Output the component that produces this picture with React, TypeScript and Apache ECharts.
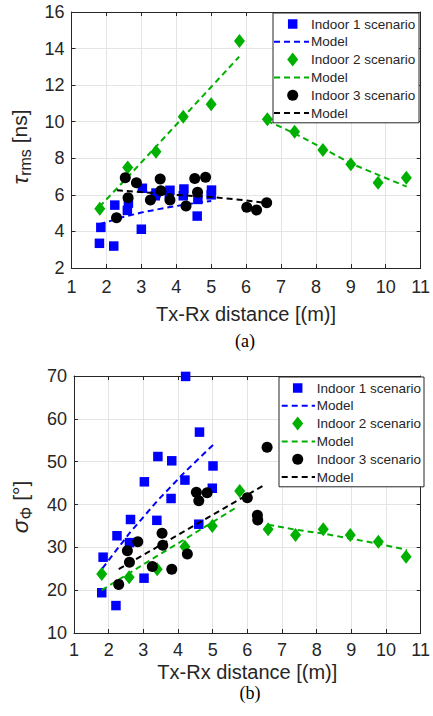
import React, { useEffect, useRef } from "react";
import * as echarts from "echarts";

// ---------- Data ----------
// Panel (a): RMS delay spread tau_rms [ns] vs Tx-Rx distance [m]
const tauIndoor1: [number, number][] = [
  [1.8, 3.35], [1.84, 4.22], [2.21, 3.2], [2.24, 5.44], [2.6, 5.15], [2.63, 5.55],
  [3.0, 4.12], [3.03, 6.36], [3.4, 5.95], [3.42, 6.1], [3.8, 6.05], [3.82, 6.25],
  [4.2, 5.95], [4.22, 6.32], [4.6, 4.84], [4.62, 5.75], [5.0, 6.0], [5.01, 6.26],
];
const tauModel1: [number, number][] = [
  [1.8, 4.39], [2.5, 4.8], [3.0, 5.03], [3.5, 5.22], [4.0, 5.39], [4.5, 5.54], [5.0, 5.67],
];
const tauIndoor2: [number, number][] = [
  [1.81, 5.24], [2.61, 7.5], [3.42, 8.36], [4.2, 10.27], [5.0, 10.95], [5.81, 14.41],
  [6.61, 10.13], [7.39, 9.45], [8.2, 8.45], [9.0, 7.67], [9.78, 6.66], [10.59, 6.94],
];
const tauModel2Near: [number, number][] = [
  [1.8, 5.35], [2.6, 6.95], [3.4, 8.6], [4.2, 10.25], [5.0, 11.9], [5.8, 13.55],
];
const tauModel2Far: [number, number][] = [
  [6.6, 10.05], [7.4, 9.35], [8.2, 8.55], [9.0, 7.72], [9.8, 7.08], [10.6, 6.45],
];
const tauIndoor3: [number, number][] = [
  [2.29, 4.75], [2.54, 6.94], [2.62, 5.84], [2.86, 6.66], [3.26, 5.72], [3.54, 6.87],
  [3.56, 6.23], [3.82, 5.72], [4.28, 5.39], [4.53, 6.9], [4.61, 6.14], [4.84, 6.96],
  [6.02, 5.32], [6.3, 5.17], [6.59, 5.57],
];
const tauModel3: [number, number][] = [
  [2.3, 6.25], [3.0, 6.15], [4.0, 6.0], [5.0, 5.88], [6.0, 5.7], [6.6, 5.55],
];

// Panel (b): angular spread sigma_Phi [deg] vs Tx-Rx distance [m]
const sigIndoor1: [number, number][] = [
  [1.8, 19.4], [1.84, 27.7], [2.21, 16.4], [2.24, 32.7], [2.6, 31.1], [2.63, 36.5],
  [3.02, 22.8], [3.03, 45.3], [3.39, 36.3], [3.42, 51.2], [3.8, 41.4], [3.82, 50.2],
  [4.2, 45.7], [4.22, 69.9], [4.6, 35.4], [4.62, 56.9], [4.99, 43.8], [5.01, 49.0],
];
const sigModel1: [number, number][] = [
  [1.82, 25.1], [2.6, 33.3], [3.42, 41.0], [4.2, 47.6], [5.01, 53.9],
];
const sigIndoor2: [number, number][] = [
  [1.8, 23.8], [2.59, 23.0], [3.4, 24.9], [4.2, 30.15], [4.99, 35.0], [5.78, 43.15],
  [6.6, 34.2], [7.39, 32.9], [8.19, 34.2], [8.97, 32.9], [9.78, 31.3], [10.58, 27.8],
];
const sigModel2Near: [number, number][] = [
  [1.8, 20.0], [2.6, 24.0], [3.4, 28.0], [4.2, 31.9], [5.0, 35.9], [5.7, 39.4],
];
const sigModel2Far: [number, number][] = [
  [6.6, 35.3], [7.4, 34.1], [8.2, 33.2], [9.0, 32.0], [9.8, 30.8], [10.6, 29.4],
];
const sigIndoor3: [number, number][] = [
  [2.29, 21.35], [2.54, 29.2], [2.6, 26.5], [2.84, 31.3], [3.26, 25.5], [3.54, 33.3],
  [3.56, 30.5], [3.82, 24.9], [4.27, 28.45], [4.53, 42.85], [4.6, 40.9], [4.84, 42.75],
  [6.0, 41.6], [6.29, 37.5], [6.3, 36.4], [6.57, 53.35],
];
const sigModel3: [number, number][] = [
  [2.29, 24.9], [3.3, 29.6], [4.3, 34.3], [5.3, 39.0], [6.5, 44.6],
];

const legendLabels = [
  "Indoor 1 scenario", "Model", "Indoor 2 scenario", "Model", "Indoor 3 scenario", "Model",
];
const xTitle = "Tx-Rx distance [(m)]";
const captions = ["(a)", "(b)"];

// ---------- Styles ----------
const FONT = "'Liberation Sans', Arial, Helvetica, sans-serif";
const SERIF = "'Liberation Serif', 'Times New Roman', serif";
const AX = "#262626";
const GRIDC = "#e4e4e4";
const BLUE = "#0000ff";
const GREEN = "#00b000";
const BLACK = "#000000";
const COLORS = [BLUE, GREEN, BLACK];
const SYMBOLS = ["rect", "diamond", "circle"];
const SYMSIZE: any[] = [9.5, [11, 14], 11];
const DASH = [6, 4];

function scatter(data: [number, number][], k: number, g: number, z: number) {
  return {
    type: "scatter", xAxisIndex: g, yAxisIndex: g, data,
    symbol: SYMBOLS[k], symbolSize: SYMSIZE[k],
    itemStyle: { color: COLORS[k], opacity: 1 }, z, silent: true,
  };
}
function model(data: [number, number][], k: number, g: number, z: number) {
  return {
    type: "line", xAxisIndex: g, yAxisIndex: g, data, symbol: "none", showSymbol: false,
    lineStyle: { color: COLORS[k], width: 2, type: DASH }, z, silent: true,
  };
}

function legendGraphic(left: number, top: number, width: number, rowH: number, symX: number, lineX0: number, lineX1: number, textX: number) {
  const Z = 100;
  const children: any[] = [
    { type: "rect", z: Z, shape: { x: left, y: top, width, height: rowH * 6 + 3 },
      style: { fill: "#ffffff", stroke: AX, lineWidth: 1 } },
  ];
  legendLabels.forEach((label, i) => {
    const k = Math.floor(i / 2);
    const cy = top + 11 + i * rowH;
    if (i % 2 === 0) {
      if (k === 0) children.push({ type: "rect", z: Z + 1, shape: { x: symX - 4.75, y: cy - 4.75, width: 9.5, height: 9.5 }, style: { fill: COLORS[k] } });
      if (k === 1) children.push({ type: "polygon", z: Z + 1, shape: { points: [[symX, cy - 7], [symX + 5.5, cy], [symX, cy + 7], [symX - 5.5, cy]] }, style: { fill: COLORS[k] } });
      if (k === 2) children.push({ type: "circle", z: Z + 1, shape: { cx: symX, cy, r: 5.5 }, style: { fill: COLORS[k] } });
    } else {
      children.push({ type: "line", z: Z + 1, shape: { x1: lineX0, y1: cy, x2: lineX1, y2: cy }, style: { stroke: COLORS[k], lineWidth: 2, lineDash: DASH } });
    }
    children.push({ type: "text", z: Z + 1, x: textX, y: cy, style: { text: label, font: `13.5px ${FONT}`, fill: AX, verticalAlign: "middle", align: "left" } });
  });
  return children;
}

export default function App() {
  const ref = useRef<HTMLDivElement>(null);
  useEffect(() => {
    if (!ref.current) return;
    const chart = echarts.init(ref.current, null, { renderer: "svg" });
    const grids = [
      { left: 69, top: 12, width: 353, height: 256 },
      { left: 74, top: 376, width: 353, height: 257 },
    ];
    const yRanges = [
      { min: 2, max: 16, interval: 2 },
      { min: 10, max: 70, interval: 10 },
    ];
    const labelMargins = [10, 8];
    const xNameGaps = [36, 29];
    const yNames = ["{t|τ}{s|rms}{n| [ns]}", "{t|σ}{s|Φ}{m| [°]}"];
    const yNameGaps = [38, 40];
    const tick = { show: true, inside: true, length: 4, lineStyle: { color: AX, width: 1 } };
    const line = { show: true, onZero: false, lineStyle: { color: AX, width: 1 } };
    const xAxis: any[] = [];
    const yAxis: any[] = [];
    [0, 1].forEach((g) => {
      xAxis.push({
        type: "value", gridIndex: g, min: 1, max: 11, interval: 1, position: "bottom",
        name: xTitle, nameLocation: "middle", nameGap: xNameGaps[g],
        nameTextStyle: { fontSize: 20, fontFamily: FONT, color: AX },
        axisLine: line, axisTick: tick,
        axisLabel: { fontSize: 18, fontFamily: FONT, color: AX, margin: labelMargins[g] },
        splitLine: { show: true, lineStyle: { color: GRIDC, width: 1 } },
      });
      yAxis.push({
        type: "value", gridIndex: g, ...yRanges[g], position: "left",
        name: yNames[g], nameLocation: "middle", nameRotate: 90, nameGap: yNameGaps[g],
        nameTextStyle: {
          fontSize: 21, fontFamily: FONT, color: AX,
          rich: {
            t: { fontSize: 23, fontFamily: FONT, fontStyle: "italic", color: AX },
            s: { fontSize: 16, fontFamily: FONT, color: AX, padding: [12, 0, 0, 0] },
            n: { fontSize: 21, fontFamily: FONT, color: AX, padding: [0, 14, 0, 0] },
            m: { fontSize: 21, fontFamily: FONT, color: AX, padding: [0, 5, 0, 0] },
          },
        },
        axisLine: line, axisTick: tick,
        axisLabel: { fontSize: 18, fontFamily: FONT, color: AX, margin: 7 },
        splitLine: { show: true, lineStyle: { color: GRIDC, width: 1 } },
      });
    });
    [0, 1].forEach((g) => {
      xAxis.push({
        type: "value", gridIndex: g, min: 1, max: 11, interval: 1, position: "top",
        axisLine: line, axisTick: tick, axisLabel: { show: false }, splitLine: { show: false },
      });
      yAxis.push({
        type: "value", gridIndex: g, ...yRanges[g], position: "right",
        axisLine: line, axisTick: tick, axisLabel: { show: false }, splitLine: { show: false },
      });
    });

    const series: any[] = [
      scatter(tauIndoor1, 0, 0, 2), model(tauModel1, 0, 0, 3),
      scatter(tauIndoor2, 1, 0, 4), model(tauModel2Near, 1, 0, 5), model(tauModel2Far, 1, 0, 5),
      scatter(tauIndoor3, 2, 0, 6), model(tauModel3, 2, 0, 7),
      scatter(sigIndoor1, 0, 1, 2), model(sigModel1, 0, 1, 3),
      scatter(sigIndoor2, 1, 1, 4), model(sigModel2Near, 1, 1, 5), model(sigModel2Far, 1, 1, 5),
      scatter(sigIndoor3, 2, 1, 6), model(sigModel3, 2, 1, 7),
    ];

    chart.setOption({
      animation: false,
      backgroundColor: "#ffffff",
      grid: grids,
      xAxis, yAxis, series,
      graphic: [
        ...legendGraphic(273, 13, 146, 17.8, 292.7, 274, 309, 311),
        ...legendGraphic(279, 377, 145, 17.8, 297.7, 281.7, 315, 316.7),
        { type: "text", z: 100, x: 245, y: 341, style: { text: captions[0], font: `18px ${SERIF}`, fill: "#000", align: "center", verticalAlign: "middle" } },
        { type: "text", z: 100, x: 250, y: 693, style: { text: captions[1], font: `18px ${SERIF}`, fill: "#000", align: "center", verticalAlign: "middle" } },
      ],
    });
    return () => chart.dispose();
  }, []);
  return (
    <div
      ref={ref}
      style={{ position: "fixed", left: 0, top: 0, width: 433, height: 716, background: "#fff" }}
    />
  );
}
